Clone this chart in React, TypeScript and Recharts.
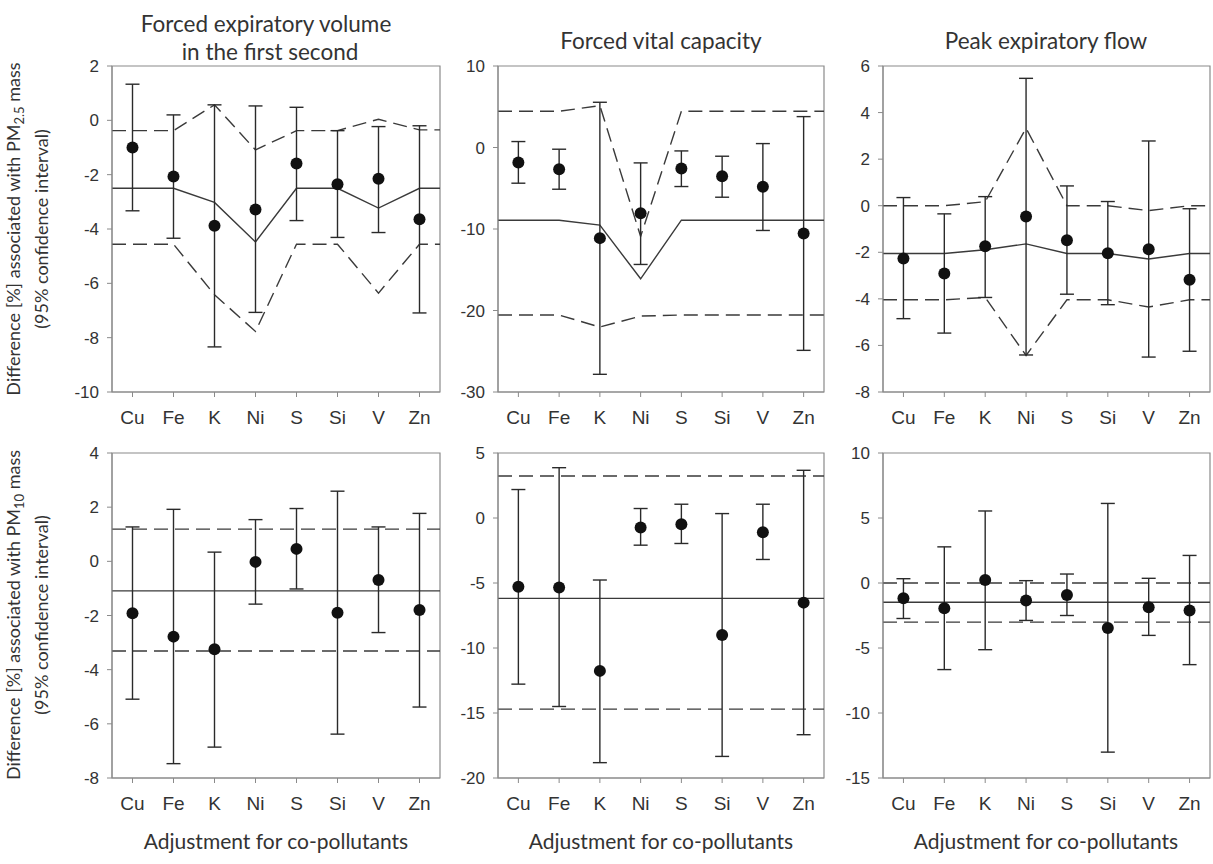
import React from "react";
import {
  ComposedChart,
  ErrorBar,
  Line,
  ReferenceArea,
  ReferenceLine,
  Scatter,
  XAxis,
  YAxis,
} from "recharts";

const elements = ["Cu", "Fe", "K", "Ni", "S", "Si", "V", "Zn"];

// PM2.5 mass, FEV1
const fev25Est = [-1.0, -2.07, -3.88, -3.28, -1.59, -2.35, -2.15, -3.64];
const fev25Low = [-3.33, -4.34, -8.34, -7.07, -3.69, -4.31, -4.13, -7.09];
const fev25High = [1.33, 0.2, 0.57, 0.53, 0.48, -0.38, -0.23, -0.2];
const fev25Mid = [-2.5, -2.5, -3.02, -4.48, -2.5, -2.5, -3.23, -2.5];
const fev25Upper = [-0.38, -0.38, 0.57, -1.09, -0.38, -0.38, 0.04, -0.35];
const fev25Lower = [-4.56, -4.56, -6.42, -7.77, -4.56, -4.56, -6.36, -4.56];
const fev25Ticks = [-10, -8, -6, -4, -2, 0, 2];

// PM2.5 mass, FVC
const fvc25Est = [-1.85, -2.67, -11.12, -8.06, -2.58, -3.52, -4.83, -10.55];
const fvc25Low = [-4.38, -5.12, -27.83, -14.35, -4.79, -6.1, -10.18, -24.89];
const fvc25High = [0.73, -0.21, 5.55, -1.89, -0.42, -1.07, 0.48, 3.79];
const fvc25Mid = [-8.92, -8.92, -9.53, -16.11, -8.92, -8.92, -8.92, -8.92];
const fvc25Upper = [4.44, 4.44, 5.14, -10.92, 4.44, 4.44, 4.44, 4.44];
const fvc25Lower = [-20.56, -20.56, -22.03, -20.68, -20.56, -20.56, -20.56, -20.56];
const fvc25Ticks = [-30, -20, -10, 0, 10];

// PM2.5 mass, PEF
const pef25Est = [-2.27, -2.91, -1.74, -0.46, -1.48, -2.04, -1.87, -3.18];
const pef25Low = [-4.85, -5.47, -3.94, -6.41, -3.8, -4.25, -6.5, -6.25];
const pef25High = [0.35, -0.35, 0.39, 5.47, 0.85, 0.18, 2.78, -0.13];
const pef25Mid = [-2.05, -2.05, -1.89, -1.64, -2.05, -2.05, -2.29, -2.05];
const pef25Upper = [0, 0, 0.17, 3.33, 0, 0, -0.21, 0];
const pef25Lower = [-4.04, -4.04, -3.94, -6.43, -4.04, -4.04, -4.35, -4.04];
const pef25Ticks = [-8, -6, -4, -2, 0, 2, 4, 6];

// PM10 mass, FEV1
const fev10Est = [-1.92, -2.78, -3.25, -0.02, 0.46, -1.9, -0.69, -1.8];
const fev10Low = [-5.09, -7.47, -6.86, -1.58, -1.02, -6.38, -2.63, -5.38];
const fev10High = [1.27, 1.92, 0.34, 1.54, 1.95, 2.59, 1.27, 1.77];
const fev10Ref = [1.19, -1.09, -3.31];
const fev10Ticks = [-8, -6, -4, -2, 0, 2, 4];

// PM10 mass, FVC
const fvc10Est = [-5.29, -5.34, -11.76, -0.73, -0.48, -9.0, -1.09, -6.51];
const fvc10Low = [-12.78, -14.5, -18.82, -2.09, -1.96, -18.34, -3.19, -16.67];
const fvc10High = [2.19, 3.87, -4.77, 0.73, 1.06, 0.34, 1.06, 3.67];
const fvc10Ref = [3.23, -6.18, -14.7];
const fvc10Ticks = [-20, -15, -10, -5, 0, 5];

// PM10 mass, PEF
const pef10Est = [-1.17, -1.94, 0.23, -1.35, -0.92, -3.47, -1.86, -2.12];
const pef10Low = [-2.73, -6.66, -5.13, -2.88, -2.5, -13.01, -4.03, -6.28];
const pef10High = [0.33, 2.78, 5.54, 0.18, 0.69, 6.12, 0.36, 2.12];
const pef10Ref = [0.0, -1.48, -3.01];
const pef10Ticks = [-15, -10, -5, 0, 5, 10];

const AXIS = "#8a8a8a";
const INK = "#2a2a2a";
const TICK_FONT = "'Liberation Sans', Arial, sans-serif";
const LABEL_FONT = "Lato, 'Open Sans', sans-serif";
const DASH = "14 7";

type PanelProps = {
  x: number;
  y: number;
  w: number;
  h: number;
  est: number[];
  low: number[];
  high: number[];
  ticks: number[];
  mid?: number[];
  upper?: number[];
  lower?: number[];
  refs?: number[];
};

const PAD_L = 70;
const PAD_T = 10;
const PAD_R = 6;
const PAD_B = 45;

function Panel({ x, y, w, h, est, low, high, ticks, mid, upper, lower, refs }: PanelProps) {
  const domain: [number, number] = [ticks[0], ticks[ticks.length - 1]];
  const points = elements.map((name, i) => ({
    x: i + 0.5,
    name,
    est: est[i],
    err: [est[i] - low[i], high[i] - est[i]],
  }));
  let lineData: { x: number; mid: number; upper: number; lower: number }[] | undefined;
  if (mid && upper && lower) {
    const rows = elements.map((_, i) => ({ x: i + 0.5, mid: mid[i], upper: upper[i], lower: lower[i] }));
    const n = elements.length - 1;
    // carry the first and last values out to the plot edges
    lineData = [
      { x: 0, mid: mid[0], upper: upper[0], lower: lower[0] },
      ...rows,
      { x: elements.length, mid: mid[n], upper: upper[n], lower: lower[n] },
    ];
  }
  return (
    <div style={{ position: "absolute", left: x - PAD_L, top: y - PAD_T }}>
      <ComposedChart
        width={w + PAD_L + PAD_R}
        height={h + PAD_T + PAD_B}
        data={lineData}
        margin={{ top: PAD_T, right: PAD_R, bottom: 0, left: 0 }}
      >
        <XAxis
          type="number"
          dataKey="x"
          domain={[0, elements.length]}
          ticks={elements.map((_, i) => i + 0.5)}
          tickFormatter={(v: number) => elements[Math.floor(v)]}
          interval={0}
          height={PAD_B}
          allowDataOverflow
          stroke={AXIS}
          tickSize={5}
          tickMargin={14}
          tick={{ fill: "#333", fontSize: 19, fontFamily: TICK_FONT }}
        />
        <YAxis
          type="number"
          domain={domain}
          ticks={ticks}
          interval={0}
          width={PAD_L}
          allowDataOverflow
          stroke={AXIS}
          tickSize={5}
          tickMargin={8}
          tick={{ fill: "#333", fontSize: 17, fontFamily: TICK_FONT }}
        />
        <ReferenceArea
          x1={0}
          x2={elements.length}
          y1={domain[0]}
          y2={domain[1]}
          fill="none"
          stroke={AXIS}
          strokeWidth={1.2}
          ifOverflow="visible"
        />
        {refs && (
          <>
            <ReferenceLine y={refs[0]} stroke="#3a3a3a" strokeWidth={1.4} strokeDasharray={DASH} />
            <ReferenceLine y={refs[1]} stroke="#3a3a3a" strokeWidth={1.4} />
            <ReferenceLine y={refs[2]} stroke="#3a3a3a" strokeWidth={1.4} strokeDasharray={DASH} />
          </>
        )}
        {lineData && (
          <Line dataKey="upper" stroke="#3a3a3a" strokeWidth={1.4} strokeDasharray={DASH} dot={false} isAnimationActive={false} />
        )}
        {lineData && (
          <Line dataKey="mid" stroke="#3a3a3a" strokeWidth={1.4} dot={false} isAnimationActive={false} />
        )}
        {lineData && (
          <Line dataKey="lower" stroke="#3a3a3a" strokeWidth={1.4} strokeDasharray={DASH} dot={false} isAnimationActive={false} />
        )}
        <Scatter
          data={points}
          dataKey="est"
          isAnimationActive={false}
          shape={(p: any) => <circle cx={p.cx} cy={p.cy} r={6} fill="#111" />}
        >
          <ErrorBar dataKey="err" direction="y" width={7} stroke={INK} strokeWidth={1.4} isAnimationActive={false} />
        </Scatter>
      </ComposedChart>
    </div>
  );
}

function YLabel({ cx, cy, sub }: { cx: number; cy: number; sub: string }) {
  return (
    <g fontFamily={LABEL_FONT} fontSize={18} fill="#333" textAnchor="middle">
      <text transform={`translate(${cx}, ${cy}) rotate(-90)`}>
        Difference [%] associated with PM
        <tspan dy={4} fontSize={13}>
          {sub}
        </tspan>
        <tspan dy={-4}> mass</tspan>
      </text>
      <text transform={`translate(${cx + 28}, ${cy}) rotate(-90)`}>(95% confidence interval)</text>
    </g>
  );
}

export default function App() {
  const cols = [
    { x: 112, w: 328 },
    { x: 498, w: 326 },
    { x: 883, w: 327 },
  ];
  const top = { y: 66, h: 326 };
  const bot = { y: 453, h: 325 };
  return (
    <div style={{ position: "absolute", left: 0, top: 0, width: 1213, height: 864, background: "#fff" }}>
      <Panel {...cols[0]} {...top} est={fev25Est} low={fev25Low} high={fev25High} ticks={fev25Ticks} mid={fev25Mid} upper={fev25Upper} lower={fev25Lower} />
      <Panel {...cols[1]} {...top} est={fvc25Est} low={fvc25Low} high={fvc25High} ticks={fvc25Ticks} mid={fvc25Mid} upper={fvc25Upper} lower={fvc25Lower} />
      <Panel {...cols[2]} {...top} est={pef25Est} low={pef25Low} high={pef25High} ticks={pef25Ticks} mid={pef25Mid} upper={pef25Upper} lower={pef25Lower} />
      <Panel {...cols[0]} {...bot} est={fev10Est} low={fev10Low} high={fev10High} ticks={fev10Ticks} refs={fev10Ref} />
      <Panel {...cols[1]} {...bot} est={fvc10Est} low={fvc10Low} high={fvc10High} ticks={fvc10Ticks} refs={fvc10Ref} />
      <Panel {...cols[2]} {...bot} est={pef10Est} low={pef10Low} high={pef10High} ticks={pef10Ticks} refs={pef10Ref} />
      <svg
        width={1213}
        height={864}
        style={{ position: "absolute", left: 0, top: 0, pointerEvents: "none" }}
      >
        <g fontFamily={LABEL_FONT} fontSize={22.5} fill="#333" textAnchor="middle">
          <text x={266} y={32}>Forced expiratory volume</text>
          <text x={270} y={60}>in the first second</text>
          <text x={661} y={49}>Forced vital capacity</text>
          <text x={1046} y={49}>Peak expiratory flow</text>
        </g>
        <g fontFamily={LABEL_FONT} fontSize={21} fill="#333" textAnchor="middle">
          <text x={276} y={849}>Adjustment for co-pollutants</text>
          <text x={661} y={849}>Adjustment for co-pollutants</text>
          <text x={1046} y={849}>Adjustment for co-pollutants</text>
        </g>
        <YLabel cx={20} cy={229} sub="2.5" />
        <YLabel cx={20} cy={615} sub="10" />
      </svg>
    </div>
  );
}
